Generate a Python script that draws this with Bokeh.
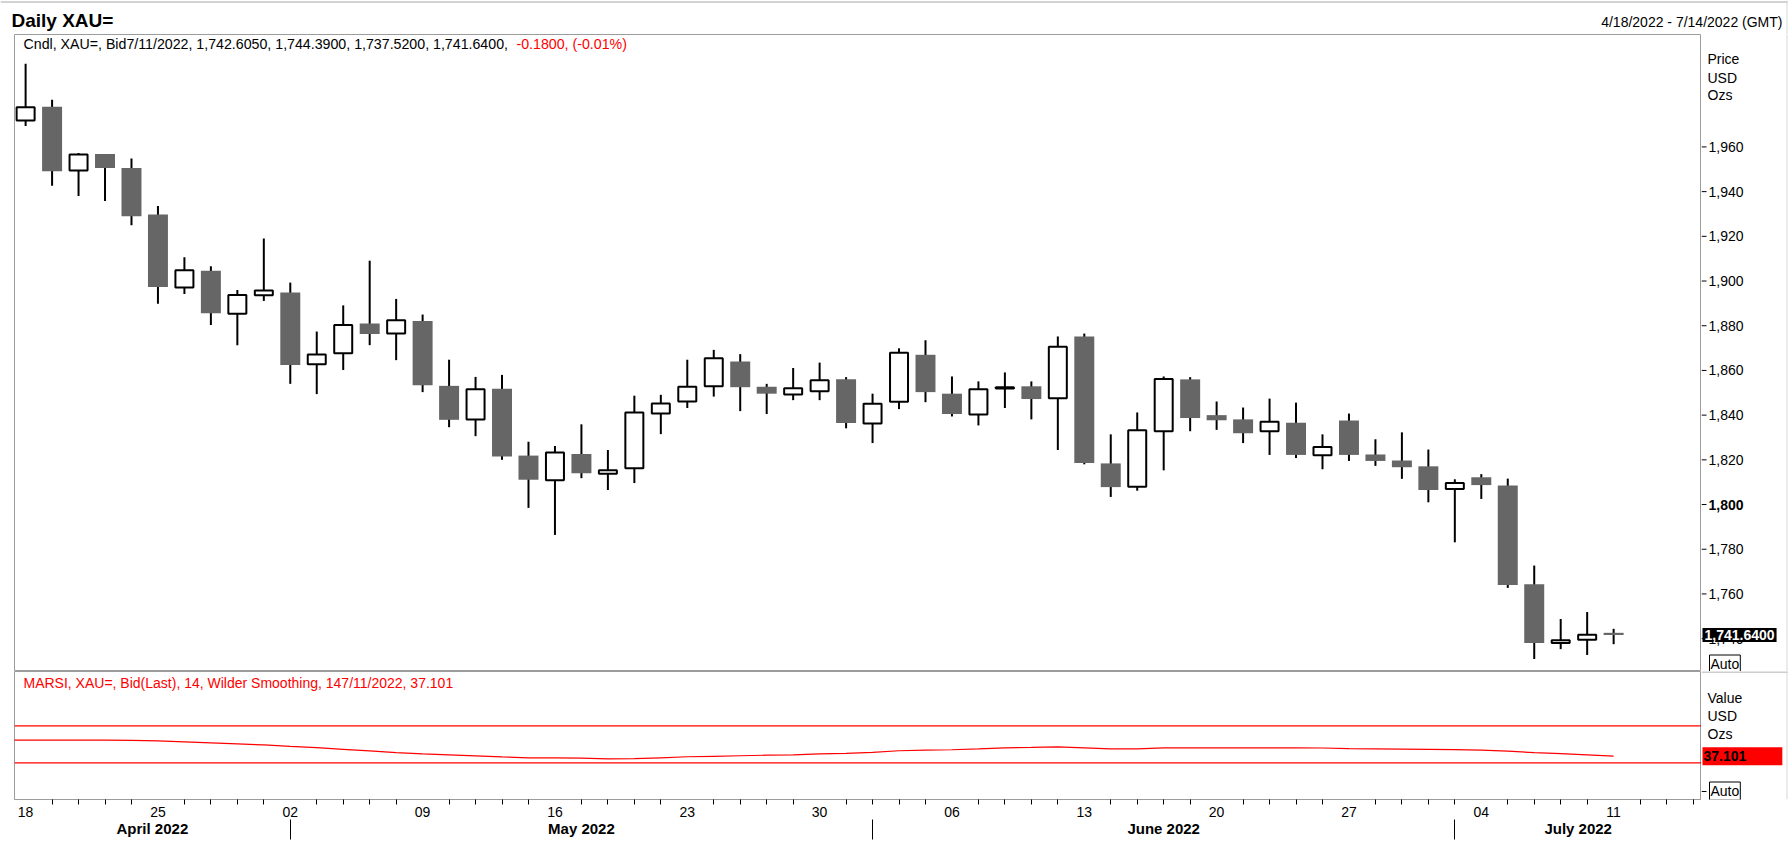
import pandas as pd
from bokeh.plotting import figure
from bokeh.layouts import column, row
from bokeh.models import (Range1d, LinearAxis, FixedTicker, CustomJSTickFormatter,
                          Label, Span, BoxAnnotation, ColumnDataSource)
from bokeh.core.properties import value
from bokeh.embed import file_html
from bokeh.resources import INLINE

# ---------------- data ----------------
dates = pd.bdate_range("2022-04-18", "2022-07-11")        # trading days with candles
axis_dates = pd.bdate_range("2022-04-18", "2022-07-14")   # x axis extent (4/18 - 7/14)

opens = [1971.8, 1978.0, 1949.5, 1956.8, 1950.6, 1929.8, 1897.1, 1904.6, 1885.4, 1893.6,
         1894.9, 1862.8, 1867.7, 1881.0, 1876.5, 1882.1, 1853.1, 1838.1, 1851.8, 1821.9,
         1810.9, 1822.6, 1813.8, 1816.2, 1840.7, 1846.1, 1852.9, 1864.0, 1852.7, 1849.2,
         1850.7, 1856.0, 1836.3, 1846.0, 1867.0, 1849.6, 1840.3, 1851.9, 1852.9, 1847.6,
         1875.2, 1818.4, 1808.0, 1832.8, 1856.0, 1840.0, 1838.1, 1832.8, 1836.6, 1822.0,
         1837.6, 1822.4, 1819.7, 1817.1, 1806.9, 1812.2, 1808.5, 1764.3, 1738.0, 1739.5,
         1742.605]
highs = [1997.2, 1981.1, 1957.3, 1956.8, 1954.8, 1933.6, 1910.6, 1906.6, 1896.0, 1919.0,
         1899.3, 1877.4, 1889.1, 1909.1, 1892.0, 1885.0, 1864.8, 1857.1, 1858.0, 1828.1,
         1826.2, 1835.9, 1824.4, 1848.7, 1849.1, 1864.8, 1869.2, 1867.3, 1854.0, 1861.1,
         1863.5, 1857.0, 1849.6, 1869.9, 1873.5, 1857.3, 1855.1, 1859.1, 1855.1, 1875.2,
         1876.5, 1831.4, 1841.2, 1857.3, 1857.0, 1846.1, 1843.4, 1847.4, 1845.6, 1831.4,
         1840.7, 1829.2, 1832.3, 1824.6, 1811.3, 1813.6, 1811.6, 1772.7, 1748.8, 1751.9,
         1744.39]
lows = [1969.4, 1942.6, 1938.0, 1935.8, 1925.0, 1889.8, 1894.2, 1880.3, 1871.3, 1891.1,
        1854.0, 1849.4, 1860.2, 1871.3, 1864.6, 1850.3, 1834.6, 1830.6, 1820.0, 1798.5,
        1786.4, 1811.8, 1806.5, 1809.6, 1831.5, 1843.2, 1848.3, 1841.8, 1840.5, 1846.7,
        1846.7, 1834.1, 1827.5, 1842.7, 1845.8, 1839.4, 1835.4, 1843.2, 1838.1, 1824.4,
        1818.0, 1803.4, 1806.2, 1815.3, 1832.8, 1833.4, 1827.5, 1822.2, 1820.8, 1815.8,
        1819.5, 1817.3, 1811.5, 1801.0, 1783.1, 1802.5, 1762.7, 1730.9, 1735.3, 1732.7,
        1737.52]
closes = [1977.8, 1949.1, 1956.6, 1950.6, 1929.0, 1897.3, 1904.8, 1885.6, 1893.8, 1895.8,
          1862.4, 1867.1, 1880.3, 1876.3, 1882.5, 1853.4, 1837.9, 1851.6, 1821.5, 1811.1,
          1823.3, 1814.0, 1815.3, 1841.2, 1845.2, 1852.7, 1865.5, 1852.5, 1849.6, 1852.0,
          1855.6, 1836.5, 1845.1, 1867.9, 1850.3, 1840.5, 1851.6, 1852.5, 1847.2, 1870.6,
          1818.6, 1807.8, 1833.2, 1856.2, 1838.7, 1837.7, 1831.9, 1837.0, 1822.2, 1825.7,
          1822.2, 1819.5, 1816.7, 1806.5, 1809.6, 1808.7, 1764.0, 1738.0, 1739.3, 1741.7,
          1741.64]
last_change = -0.18
last_change_pct = -0.01

# MARSI(14); rsi_prev belongs to the trading day before 4/18 (4/14)
rsi_prev = 54.4
rsi = [54.4, 54.4, 54.4, 54.4, 54.2, 53.7, 52.6, 51.5, 50.4, 49.3,
       47.8, 46.4, 44.6, 42.8, 41.0, 39.6, 38.5, 37.4, 36.3, 35.4,
       35.3, 35.0, 34.3, 34.4, 35.4, 36.5, 37.0, 37.6, 38.2, 38.6,
       39.7, 40.2, 41.2, 43.0, 43.6, 44.1, 45.1, 46.2, 46.6, 47.3,
       46.2, 45.1, 45.1, 46.2, 46.2, 46.2, 46.2, 46.2, 46.2, 46.0,
       45.4, 45.1, 44.8, 44.6, 44.2, 43.6, 42.5, 41.0, 39.8, 38.5,
       37.101]
rsi_bands = [70, 30]

price_ticks = [1740, 1760, 1780, 1800, 1820, 1840, 1860, 1880, 1900, 1920, 1940, 1960]
price_tick_labels = ["1,740", "1,760", "1,780", "1,800", "1,820", "1,840", "1,860",
                     "1,880", "1,900", "1,920", "1,940", "1,960"]
bold_tick = 1800
month_names = ["April 2022", "May 2022", "June 2022", "July 2022"]

# ---------------- styling ----------------
FONT = "Liberation Sans"
FRAME = "#9c9c9c"
OUTER = "#d8d8d8"
GRAY_BODY = "#666666"
FW = 1687          # plot frame width
SIDE = 87          # right label strip
FH_PRICE = 637
FH_RSI = 128
HEAD = 34

xr = Range1d(-0.42, 63.32)
yr_price = Range1d(1725.3, 2010.3)
yr_rsi = Range1d(-9.7, 128.7)

idx = list(range(len(dates)))
up = [c >= o for o, c in zip(opens, closes)]


def subset(mask):
    d = dict(x=[], top=[], bottom=[])
    for i, m in enumerate(mask):
        if m:
            d["x"].append(idx[i])
            d["top"].append(max(opens[i], closes[i]))
            d["bottom"].append(min(opens[i], closes[i]))
    return ColumnDataSource(d)


def lab(fig, x, y, text, size="14px", color="black", style="normal", align="left",
        y_units="screen", **kw):
    fig.add_layout(Label(x=x, y=y, x_units="screen", y_units=y_units, text=text,
                         text_font=FONT, text_font_size=size, text_color=color,
                         text_font_style=style, text_align=align,
                         text_baseline="middle", **kw))


def screen_box(fig, color, **kw):
    units = {k + "_units": "screen" for k in kw}
    fig.add_layout(BoxAnnotation(fill_color=color, fill_alpha=1, line_color=None,
                                 **kw, **units))


def bare(**kw):
    f = figure(x_axis_type=None, y_axis_type=None, toolbar_location=None,
               output_backend="svg", background_fill_color="white",
               border_fill_color="white", min_border=0, **kw)
    return f


# ---------------- header strip ----------------
head = bare(frame_width=FW + SIDE + 14, frame_height=HEAD, x_range=Range1d(0, 1),
            y_range=Range1d(0, 1), outline_line_color=None)
screen_box(head, "#a8a8a8", bottom=HEAD - 2, top=HEAD - 1)
screen_box(head, OUTER, left=FW + SIDE + 12, right=FW + SIDE + 13)
lab(head, 11, HEAD - 20, "Daily XAU=", size="19px", style="bold")
lab(head, 1782, HEAD - 21, "%s - %s (GMT)" % (
    axis_dates[0].strftime("%-m/%-d/%Y"), axis_dates[-1].strftime("%-m/%-d/%Y")),
    align="right")

# ---------------- price panel ----------------
p = bare(frame_width=FW, frame_height=FH_PRICE, min_border_left=14, x_range=xr,
         y_range=yr_price, outline_line_color=FRAME)

p.segment(x0=idx, y0=lows, x1=idx, y1=highs, line_color="black", line_width=2)
p.vbar(x="x", top="top", bottom="bottom", width=0.755, fill_color=GRAY_BODY,
       line_color=None, source=subset([not u for u in up]))
p.vbar(x="x", top="top", bottom="bottom", width=0.68, fill_color="white",
       line_color="black", line_width=2, source=subset(up))

last = len(dates) - 1
hdr = "Cndl, XAU=, Bid%s, %s, %s, %s, %s," % (
    dates[last].strftime("%-m/%-d/%Y"), f"{opens[last]:,.4f}", f"{highs[last]:,.4f}",
    f"{lows[last]:,.4f}", f"{closes[last]:,.4f}")
lab(p, 9, FH_PRICE - 9, hdr, size="14.2px")
lab(p, 502, FH_PRICE - 9, "%.4f, (%.2f%%)" % (last_change, last_change_pct),
    color="#ff0000", size="14.2px")

# right strip of the price panel: price scale
ps = bare(frame_width=SIDE, frame_height=FH_PRICE, x_range=Range1d(0, SIDE),
          y_range=yr_price, outline_line_color=None)
screen_box(ps, OUTER, left=SIDE - 2, right=SIDE - 1)
ps.segment(x0=0, x1=5, y0=price_ticks, y1=price_ticks, line_color="black", line_width=1)
norm = [i for i, t in enumerate(price_ticks) if t != bold_tick]
ps.text(x=[7] * len(norm), y=[price_ticks[i] for i in norm],
        text=[price_tick_labels[i] for i in norm], text_font=value(FONT),
        text_font_size="14px", text_baseline="middle", text_color="black")
ps.text(x=[7], y=[bold_tick], text=[price_tick_labels[price_ticks.index(bold_tick)]],
        text_font=value(FONT), text_font_size="14px", text_font_style="bold",
        text_baseline="middle", text_color="black")
lab(ps, 6, FH_PRICE - 24, "Price")
lab(ps, 6, FH_PRICE - 43, "USD")
lab(ps, 6, FH_PRICE - 60, "Ozs")
lab(ps, 1, closes[last], f"{closes[last]:,.4f}", color="white", style="bold",
    y_units="data", background_fill_color="black", padding=2)
lab(ps, 8, 7.5, "Auto", border_line_color="black", padding=1)

# ---------------- RSI panel ----------------
p2 = bare(frame_width=FW, frame_height=FH_RSI, min_border_left=14, min_border_bottom=63,
          x_range=xr, y_range=yr_rsi, outline_line_color=FRAME)

for b in rsi_bands:
    p2.add_layout(Span(location=b, dimension="width", line_color="#ff0000", line_width=1.2))
p2.line([-1] + idx, [rsi_prev] + rsi, line_color="#ff0000", line_width=1.2)

lab(p2, 9, FH_RSI - 11, "MARSI, XAU=, Bid(Last),  14, Wilder Smoothing, 14%s, %.3f" % (
    dates[last].strftime("%-m/%-d/%Y"), rsi[-1]), color="#ff0000")

# day axis
day_ticks = [i for i, d in enumerate(axis_dates) if d.weekday() == 0]
day_labels = [axis_dates[i].strftime("%d") for i in day_ticks]
minor_days = [i for i in range(len(axis_dates)) if i not in day_ticks]
ax1 = LinearAxis(ticker=FixedTicker(ticks=day_ticks, minor_ticks=minor_days),
                 formatter=CustomJSTickFormatter(
                     args=dict(vals=day_ticks, labels=day_labels),
                     code="const i = vals.indexOf(tick); return i < 0 ? '' : labels[i];"),
                 axis_line_color=FRAME, major_tick_out=0, major_tick_in=0,
                 major_tick_line_color=None, minor_tick_out=5, minor_tick_in=0,
                 minor_tick_line_color="black", major_label_standoff=2,
                 major_label_text_font=FONT, major_label_text_font_size="14px",
                 major_label_text_color="black")
p2.add_layout(ax1, "below")

# month axis: labels centred on each month, separators at first trading day of month
month_first = [i for i in range(len(axis_dates))
               if i == 0 or axis_dates[i].month != axis_dates[i - 1].month]
bounds = [xr.start] + month_first[1:] + [xr.end]
month_centers = [(bounds[k] + bounds[k + 1]) / 2 for k in range(len(month_first))]
ax2 = LinearAxis(ticker=FixedTicker(ticks=month_centers, minor_ticks=month_first[1:]),
                 formatter=CustomJSTickFormatter(
                     args=dict(vals=month_centers, labels=month_names),
                     code="const i = vals.indexOf(tick); return i < 0 ? '' : labels[i];"),
                 axis_line_color=None, major_tick_out=0, major_tick_in=0,
                 major_tick_line_color=None, minor_tick_out=20, minor_tick_in=0,
                 minor_tick_line_color="black", major_label_standoff=-20,
                 major_label_text_font=FONT, major_label_text_font_size="15px",
                 major_label_text_font_style="bold", major_label_text_color="black")
p2.add_layout(ax2, "below")

# right strip of the RSI panel
rs = bare(frame_width=SIDE, frame_height=FH_RSI, min_border_bottom=63,
          x_range=Range1d(0, SIDE), y_range=yr_rsi, outline_line_color=None)
screen_box(rs, FRAME, bottom=FH_RSI - 1)
screen_box(rs, OUTER, left=SIDE - 2, right=SIDE - 1)
screen_box(rs, "black", left=0, right=5, bottom=7.5, top=8.5)
lab(rs, 6, 102, "Value")
lab(rs, 6, 84, "USD")
lab(rs, 6, 66, "Ozs")
lab(rs, 1, rsi[-1], "%.3f" % rsi[-1] + "\u00a0" * 9, style="bold", y_units="data",
    background_fill_color="#ff0000", padding=1)
lab(rs, 8, 8.5, "Auto", border_line_color="black", padding=1)

layout = column(head, row(p, ps, spacing=0), row(p2, rs, spacing=0), spacing=0)
open("out.html", "w").write(file_html(layout, INLINE))
